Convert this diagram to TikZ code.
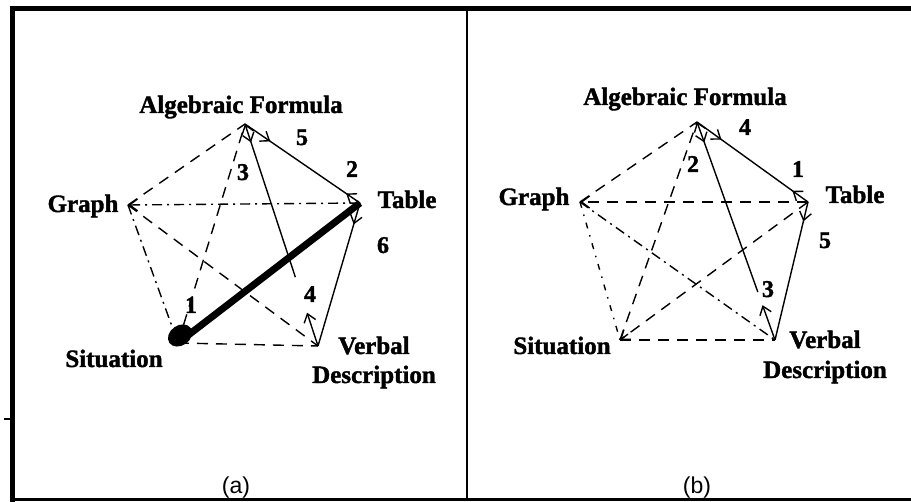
\documentclass[tikz,border=0pt]{standalone}
\usepackage{fontspec}
\setmainfont{Liberation Serif}[BoldFeatures={FakeBold=1.5}]
\newfontfamily\capfont{Liberation Sans}
\usetikzlibrary{arrows.meta,decorations.markings,calc}
\begin{document}
\begin{tikzpicture}[x=1pt,y=-1pt,
  >={Straight Barb[length=8pt,width=12pt]},
  lbl/.style={font=\bfseries\fontsize{25}{29}\selectfont, anchor=base, inner sep=0pt},
  num/.style={font=\bfseries\fontsize{24}{28}\selectfont, anchor=base, inner sep=0pt},
  captext/.style={font=\capfont\fontsize{23}{27}\selectfont, anchor=base, inner sep=0pt},
  edge/.style={line width=1.4pt},
  dsh/.style={edge, dash pattern=on 11pt off 8pt},
  dshdot/.style={edge, dash pattern=on 10pt off 5pt on 2pt off 5pt},
  dotted2/.style={edge, dash pattern=on 6pt off 7pt on 1.5pt off 7pt},
  arrowat/.style={postaction={decorate,decoration={markings,mark=at position #1 with {\pgfsetdash{}{0pt}\arrow{>}}}}},
  arrowback/.style={postaction={decorate,decoration={markings,mark=at position #1 with {\pgfsetdash{}{0pt}\arrowreversed{>}}}}},
  framebar/.style={line cap=rect}
]
\useasboundingbox (0,0) rectangle (911,502);
% frame
\draw[framebar,line width=5pt] (12,502) -- (12,8.5) -- (911,8.5);
\draw[line width=2pt] (467,8) -- (467,500);
\draw[line width=3pt] (10,500) -- (911,500);
\draw[line width=1.5pt] (4,419) -- (12,419);

% ---------- panel (a) ----------
\coordinate (aAF) at (245,124);
\coordinate (aT) at (360,203);
\coordinate (aG) at (128,205);
\coordinate (aS) at (178,343);
\coordinate (aV) at (318,346);
\coordinate (aM1) at ($(aAF)!0.69!(aV)$);
\coordinate (aM2) at ($(aAF)!0.85!(aV)$);

\node[lbl] (aAFl) at (241,113) {Algebraic Formula};
\node[lbl] (aGl) at (83,212) {Graph};
\node[lbl] (aTl) at (407,208) {Table};
\node[lbl] (aSl) at (114,367) {Situation};
\node[lbl,align=center] (aVl) at (374,383) {Verbal\\[0pt]Description};

\draw[dsh] (aG) -- (aAF);
\draw[dshdot,arrowat=0.998] (aT) -- (aG);
\draw[dshdot] (aG) -- (aS);
\draw[dsh] (aG) -- (aV);
\draw[dsh] (aS) -- (aAF);
\draw[dsh] (aS) -- (aV);
\draw[edge,arrowat=0.22,arrowback=0.88] (aAF) -- (aT);
\draw[edge,arrowat=0.15] (aT) -- (aV);
\draw[edge,<-,arrowat=0.12] (aAF) -- (aM1);
\draw[edge,->] (aV) -- (aM2);
\draw[line width=7pt] (aS) -- (aT);
\fill[rotate around={35:(aS)}] ($(aS)+(6,-5)$) ellipse (13 and 10);

\node[num] (an5) at (302,145) {5};
\node[num] (an2) at (352,177) {2};
\node[num] (an3) at (243,180) {3};
\node[num] (an6) at (383,253) {6};
\node[num] (an1) at (191,313) {1};
\node[num] (an4) at (310,302) {4};
\node[captext] (acap) at (236,494) {(a)};

% ---------- panel (b) ----------
\coordinate (bAF) at (697,122);
\coordinate (bT) at (808,202);
\coordinate (bG) at (580,202);
\coordinate (bS) at (620,340);
\coordinate (bV) at (775,340);
\coordinate (bM1) at ($(bAF)!0.78!(bV)$);
\coordinate (bM2) at ($(bAF)!0.84!(bV)$);
\coordinate (bSn) at ($(bS)!10pt!(bT)$);

\node[lbl] (bAFl) at (685,105) {Algebraic Formula};
\node[lbl] (bGl) at (534,205) {Graph};
\node[lbl] (bTl) at (855,203) {Table};
\node[lbl] (bSl) at (562,354) {Situation};
\node[lbl,align=center] (bVl) at (825,378) {Verbal\\[1pt]Description};

\draw[dsh] (bG) -- (bAF);
\draw[dsh,arrowat=0.998] (bT) -- (bG);
\draw[dotted2] (bG) -- (bS);
\draw[dshdot] (bG) -- (bV);
\draw[dsh] (bS) -- (bAF);
\draw[dsh] (bT) -- (bS);
\draw[edge,->] (bSn) -- (bS);
\draw[dsh] (bS) -- (bV);
\draw[edge,arrowat=0.22,arrowback=0.86] (bAF) -- (bT);
\draw[edge,arrowat=0.14] (bT) -- (bV);
\draw[edge,<-,arrowat=0.12] (bAF) -- (bM1);
\draw[edge,->] (bV) -- (bM2);

\node[num] (bn4) at (745,135) {4};
\node[num] (bn1) at (798,177) {1};
\node[num] (bn2) at (693,172) {2};
\node[num] (bn5) at (825,248) {5};
\node[num] (bn3) at (768,297) {3};
\node[captext] (bcap) at (697,494) {(b)};
\end{tikzpicture}
\end{document}
